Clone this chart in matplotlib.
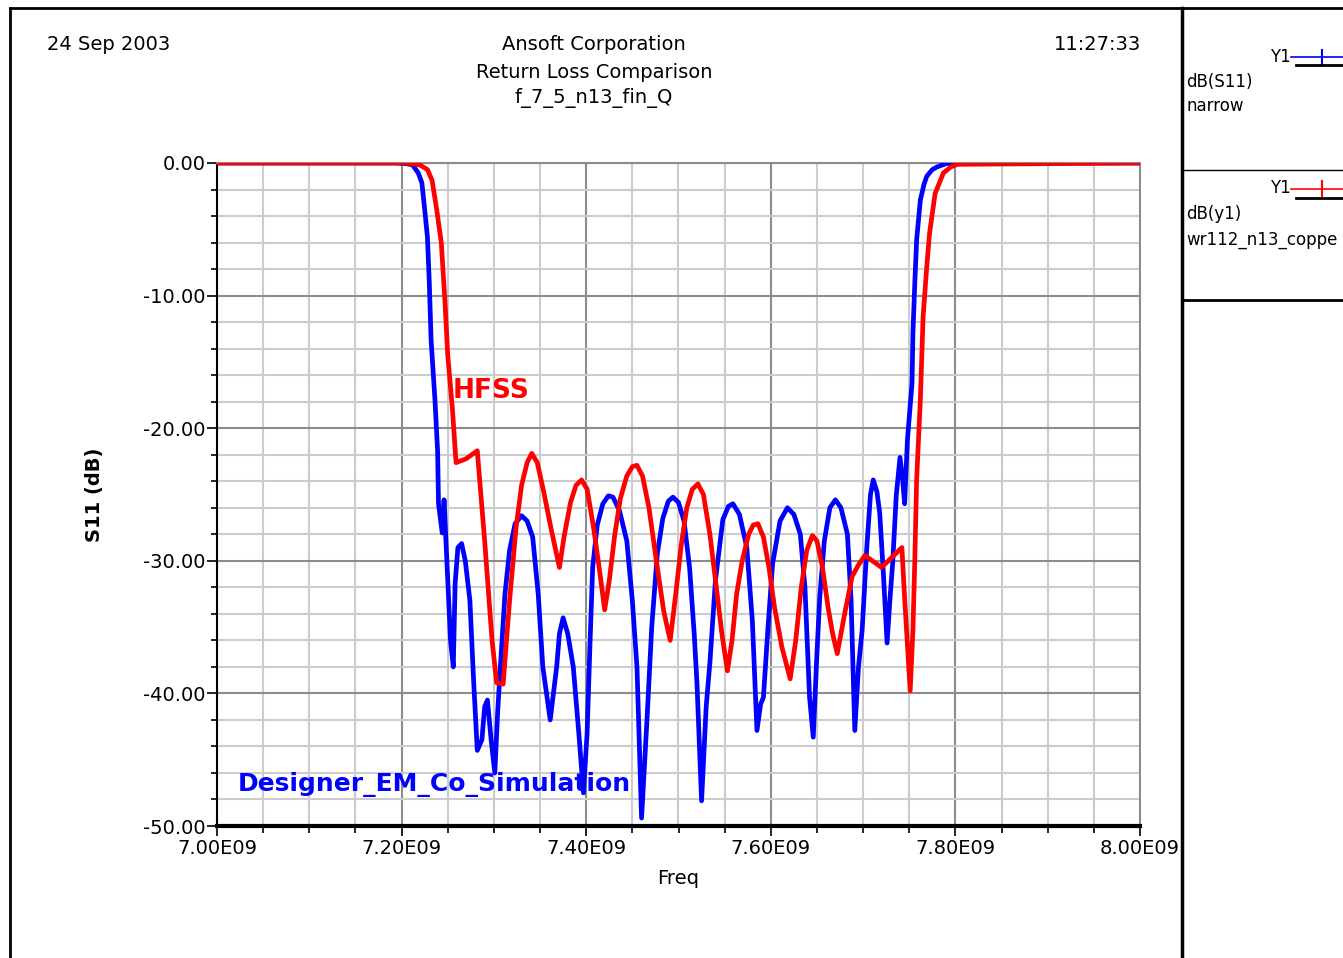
import numpy as np
import matplotlib
matplotlib.use("Agg")
import matplotlib.pyplot as plt
from matplotlib.lines import Line2D
from matplotlib.ticker import MultipleLocator, FuncFormatter

plt.rcParams['font.family'] = ['DejaVu Sans']

# HFSS (red) - freq in GHz, S11 in dB
hfss_f = [7.000, 7.187, 7.204, 7.220, 7.228, 7.233, 7.238, 7.243, 7.247, 7.250,
          7.255, 7.259, 7.270, 7.282, 7.290, 7.298, 7.303, 7.310, 7.317, 7.324,
          7.330, 7.336, 7.341, 7.347, 7.354, 7.362, 7.371, 7.376, 7.383, 7.389,
          7.395, 7.401, 7.408, 7.415, 7.420, 7.425, 7.431, 7.437, 7.444, 7.450,
          7.455, 7.461, 7.468, 7.476, 7.484, 7.491, 7.497, 7.503, 7.509, 7.515,
          7.521, 7.527, 7.534, 7.541, 7.547, 7.553, 7.558, 7.563, 7.569, 7.576,
          7.581, 7.586, 7.592, 7.598, 7.604, 7.612, 7.621, 7.627, 7.633, 7.639,
          7.645, 7.650, 7.656, 7.662, 7.667, 7.672, 7.680, 7.688, 7.695, 7.702,
          7.720, 7.742, 7.745, 7.751, 7.754, 7.756, 7.758, 7.762, 7.765, 7.769,
          7.772, 7.778, 7.787, 7.795, 7.802, 8.000]
hfss_db = [0.0, 0.0, 0.0, -0.15, -0.5, -1.3, -3.5, -6.0, -10.5, -14.5,
           -18.5, -22.6, -22.3, -21.7, -28.5, -36.0, -39.2, -39.3, -33.0, -27.5,
           -24.3, -22.6, -21.9, -22.6, -24.8, -27.6, -30.5, -28.2, -25.6, -24.3,
           -23.9, -24.6, -27.5, -31.0, -33.7, -31.5, -28.0, -25.3, -23.6, -22.9,
           -22.8, -23.6, -26.0, -30.0, -33.8, -36.0, -32.5, -28.8, -26.0, -24.6,
           -24.2, -25.0, -28.0, -32.0, -35.5, -38.3, -36.0, -32.5, -30.0, -28.0,
           -27.3, -27.2, -28.2, -30.5, -33.5, -36.5, -38.9, -36.0, -32.0, -29.2,
           -28.1, -28.5, -30.5, -33.5, -35.5, -37.0, -34.0, -31.2, -30.3, -29.6,
           -30.5, -29.0, -32.8, -39.8, -35.2, -30.0, -23.9, -17.9, -11.6, -7.8,
           -5.3, -2.3, -0.75, -0.3, -0.1, 0.0]

# Designer EM co-simulation (blue)
des_f = [7.000, 7.193, 7.205, 7.212, 7.218, 7.222, 7.225, 7.228, 7.230, 7.232,
         7.236, 7.239, 7.240, 7.244, 7.246, 7.250, 7.253, 7.256, 7.258, 7.261,
         7.265, 7.269, 7.274, 7.278, 7.282, 7.287, 7.290, 7.293, 7.297, 7.301,
         7.304, 7.307, 7.312, 7.317, 7.323, 7.330, 7.336, 7.342, 7.348, 7.353,
         7.361, 7.368, 7.371, 7.375, 7.380, 7.386, 7.392, 7.397, 7.401, 7.404,
         7.407, 7.412, 7.418, 7.424, 7.429, 7.436, 7.444, 7.450, 7.455, 7.460,
         7.466, 7.471, 7.477, 7.483, 7.489, 7.494, 7.500, 7.506, 7.512, 7.517,
         7.520, 7.525, 7.530, 7.534, 7.540, 7.548, 7.554, 7.559, 7.566, 7.574,
         7.580, 7.585, 7.589, 7.592, 7.597, 7.602, 7.610, 7.618, 7.625, 7.632,
         7.637, 7.642, 7.646, 7.650, 7.653, 7.658, 7.664, 7.670, 7.676, 7.683,
         7.687, 7.691, 7.695, 7.699, 7.704, 7.708, 7.711, 7.715, 7.718, 7.722,
         7.726, 7.729, 7.732, 7.736, 7.740, 7.743, 7.745, 7.748, 7.753, 7.754,
         7.756, 7.758, 7.762, 7.766, 7.769, 7.775, 7.780, 7.790, 7.797, 8.000]
des_db = [0.0, 0.0, -0.05, -0.15, -0.75, -1.5, -3.5, -5.6, -9.0, -13.4,
          -17.7, -21.7, -25.7, -27.9, -25.4, -31.5, -36.0, -38.0, -31.7, -29.0,
          -28.7, -30.0, -33.0, -39.0, -44.3, -43.5, -41.0, -40.5, -43.5, -46.0,
          -41.5, -38.0, -32.5, -29.2, -27.2, -26.6, -27.0, -28.2, -32.5, -38.0,
          -42.0, -38.0, -35.5, -34.3, -35.5, -38.0, -43.0, -47.5, -43.0, -36.5,
          -30.5, -27.3, -25.7, -25.1, -25.2, -26.2, -28.5, -33.0, -38.0, -49.4,
          -41.8, -35.0, -29.5, -26.8, -25.5, -25.2, -25.6, -27.0, -30.5, -35.5,
          -39.2, -48.1, -41.0, -37.7, -31.5, -26.9, -25.9, -25.7, -26.5, -29.0,
          -34.5, -42.8, -40.8, -40.3, -35.0, -30.2, -27.0, -26.0, -26.5, -28.0,
          -32.0, -40.3, -43.3, -37.0, -32.8, -28.5, -26.0, -25.4, -26.0, -28.0,
          -33.0, -42.8, -38.0, -35.2, -29.0, -25.0, -23.9, -24.8, -26.4, -31.0,
          -36.2, -33.0, -30.2, -25.0, -22.2, -24.0, -25.7, -20.9, -16.6, -12.8,
          -9.1, -5.8, -2.8, -1.6, -1.0, -0.5, -0.3, -0.05, 0.0, 0.0]

W, H = 1343, 958
fig = plt.figure(figsize=(W / 100, H / 100), dpi=100)
ax = fig.add_axes([217 / W, 1 - 826 / H, (1140 - 217) / W, (826 - 163) / H])

# grid
for v in np.arange(7.0, 8.001, 0.05):
    major = abs((v - 7.0) / 0.2 - round((v - 7.0) / 0.2)) < 1e-6
    ax.axvline(v, color='#8c8c8c' if major else '#cccccc', lw=1.5, zorder=0)
for v in np.arange(-50, 0.1, 2):
    major = int(round(v)) % 10 == 0
    ax.axhline(v, color='#8c8c8c' if major else '#cccccc', lw=1.5, zorder=0)

ax.plot(des_f, des_db, color='#0000ff', lw=3.4, zorder=3)
ax.plot(hfss_f, hfss_db, color='#ff0000', lw=3.4, zorder=4)

ax.set_xlim(7.0, 8.0)
ax.set_ylim(-50, 0)
ax.xaxis.set_major_locator(MultipleLocator(0.2))
ax.xaxis.set_minor_locator(MultipleLocator(0.05))
ax.yaxis.set_major_locator(MultipleLocator(10))
ax.yaxis.set_minor_locator(MultipleLocator(2))
ax.xaxis.set_major_formatter(FuncFormatter(lambda v, p: f"{v:.2f}E09"))
ax.yaxis.set_major_formatter(FuncFormatter(lambda v, p: f"{v:.2f}"))
ax.tick_params(axis='both', which='both', direction='out', labelsize=14, width=1.2)
ax.tick_params(axis='x', which='major', length=7, pad=2)
ax.tick_params(axis='x', which='minor', length=5)
ax.tick_params(axis='y', which='major', length=7, pad=1)
ax.tick_params(axis='y', which='minor', length=4)

ax.spines['bottom'].set_linewidth(3)
ax.spines['left'].set_linewidth(1.5)
for s in ('top', 'right'):
    ax.spines[s].set_color('#8c8c8c')
    ax.spines[s].set_linewidth(1.5)

ax.set_xlabel('Freq', fontsize=14, labelpad=8)
ax.set_ylabel('S11 (dB)', fontsize=14, fontweight='bold', labelpad=28)

ax.text(7.255, -17.2, 'HFSS', color='#ff0000', fontsize=19, fontweight='bold',
        ha='left', va='center', zorder=5)
ax.text(7.023, -46.9, 'Designer_EM_Co_Simulation', color='#0000ff', fontsize=18,
        fontweight='bold', ha='left', va='center', zorder=5)

# header
fig.text(47 / W, 1 - 45 / H, '24 Sep 2003', fontsize=14, ha='left', va='center')
fig.text(594 / W, 1 - 45 / H, 'Ansoft Corporation', fontsize=14, ha='center', va='center')
fig.text(594 / W, 1 - 72 / H, 'Return Loss Comparison', fontsize=14, ha='center', va='center')
fig.text(594 / W, 1 - 98 / H, 'f_7_5_n13_fin_Q', fontsize=14, ha='center', va='center')
fig.text(1141 / W, 1 - 45 / H, '11:27:33', fontsize=14, ha='right', va='center')

# outer frame and legend panel
def fline(x0, y0, x1, y1, **kw):
    fig.add_artist(Line2D([x0 / W, x1 / W], [1 - y0 / H, 1 - y1 / H],
                          transform=fig.transFigure, **kw))

fline(10, 8, 1343, 8, color='black', lw=2)
fline(10, 8, 10, 958, color='black', lw=2)
fline(1182, 8, 1182, 958, color='black', lw=2.5)
fline(1182, 170, 1343, 170, color='black', lw=1)
fline(1182, 300, 1343, 300, color='black', lw=2)

# legend entry 1
fig.text(1270 / W, 1 - 57 / H, 'Y1', fontsize=12, ha='left', va='center')
fline(1291, 57, 1343, 57, color='#0000ff', lw=1.2)
fline(1322, 50, 1322, 64, color='#0000ff', lw=1.5)
fline(1296, 65, 1343, 65, color='black', lw=2)
fig.text(1186 / W, 1 - 82 / H, 'dB(S11)', fontsize=12, ha='left', va='center')
fig.text(1186 / W, 1 - 106 / H, 'narrow', fontsize=12, ha='left', va='center')

# legend entry 2
fig.text(1270 / W, 1 - 188 / H, 'Y1', fontsize=12, ha='left', va='center')
fline(1291, 189, 1343, 189, color='#ff0000', lw=1.2)
fline(1322, 181, 1322, 197, color='#ff0000', lw=1.5)
fline(1296, 198, 1343, 198, color='black', lw=2)
fig.text(1186 / W, 1 - 214 / H, 'dB(y1)', fontsize=12, ha='left', va='center')
fig.text(1186 / W, 1 - 240 / H, 'wr112_n13_coppe', fontsize=12, ha='left', va='center')

fig.savefig('out.png', dpi=100)
